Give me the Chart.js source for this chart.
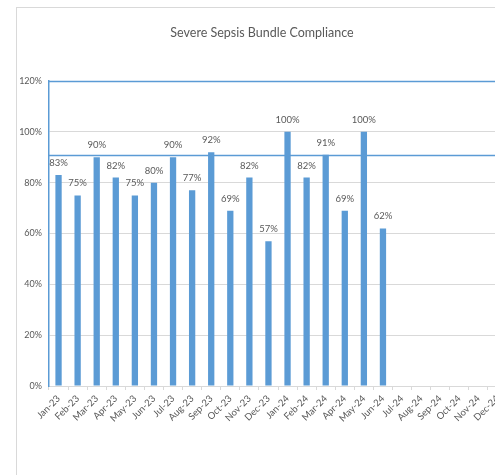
<!DOCTYPE html>
<html>
<head>
<meta charset="utf-8">
<script src="https://cdn.jsdelivr.net/npm/chart.js@4/dist/chart.umd.min.js"></script>
<style>
  html, body { margin: 0; padding: 0; background: #fff; overflow: hidden; }
  #wrap {
    position: absolute; left: 16px; top: 7px; width: 500px; height: 468px;
    border-left: 1px solid #d9d9d9; border-top: 1px solid #d9d9d9;
  }
</style>
</head>
<body>
<div id="wrap"><canvas id="barChart" width="500" height="468"></canvas></div>
<script>
var months = ["Jan-23", "Feb-23", "Mar-23", "Apr-23", "May-23", "Jun-23", "Jul-23", "Aug-23",
  "Sep-23", "Oct-23", "Nov-23", "Dec-23", "Jan-24", "Feb-24", "Mar-24", "Apr-24", "May-24",
  "Jun-24", "Jul-24", "Aug-24", "Sep-24", "Oct-24", "Nov-24", "Dec-24"];
var compliance = [0.83, 0.75, 0.90, 0.82, 0.75, 0.80, 0.90, 0.77, 0.92, 0.69, 0.82, 0.57,
  1.00, 0.82, 0.91, 0.69, 1.00, 0.62, null, null, null, null, null, null];
var target = 0.91;
var yTicks = [0, 0.2, 0.4, 0.6, 0.8, 1.0, 1.2];

var blue = "#5b9bd5";
var textGrey = "#595959";
var font = "Lato, 'Open Sans', sans-serif";

// value labels above bars + target line + top border
var overlay = {
  id: "overlay",
  afterDatasetsDraw: function (chart) {
    var ctx = chart.ctx;
    var area = chart.chartArea;
    var y = chart.scales.y;
    ctx.save();
    // target line
    ctx.strokeStyle = blue;
    ctx.lineWidth = 1.5;
    ctx.beginPath();
    ctx.moveTo(area.left, Math.round(y.getPixelForValue(target)) + 0.5);
    ctx.lineTo(area.right, Math.round(y.getPixelForValue(target)) + 0.5);
    ctx.stroke();
    // top border at 120%
    ctx.lineWidth = 1.5;
    ctx.beginPath();
    ctx.moveTo(area.left, Math.round(y.getPixelForValue(1.2)) + 0.5);
    ctx.lineTo(area.right, Math.round(y.getPixelForValue(1.2)) + 0.5);
    ctx.stroke();
    // labels
    ctx.fillStyle = textGrey;
    ctx.font = "9.5px " + font;
    ctx.textAlign = "center";
    ctx.textBaseline = "middle";
    chart.getDatasetMeta(0).data.forEach(function (bar, i) {
      var v = compliance[i];
      if (v === null) return;
      ctx.fillText(Math.round(v * 100) + "%", bar.x, bar.y - 12);
    });
    ctx.restore();
  }
};

var ctx = document.getElementById("barChart").getContext("2d");
var myChart = new Chart(ctx, {
  type: "bar",
  data: {
    labels: months,
    datasets: [
      {
        label: "Compliance",
        data: compliance,
        backgroundColor: blue,
        borderWidth: 0,
        barPercentage: 0.33,
        categoryPercentage: 1.0,
      },
    ],
  },
  options: {
    responsive: false,
    animation: false,
    layout: { padding: { left: 0, right: 10, top: 0, bottom: 45 } },
    plugins: {
      legend: { display: false },
      tooltip: { enabled: false },
      title: {
        display: true,
        text: "Severe Sepsis Bundle Compliance",
        color: textGrey,
        font: { family: font, size: 12.5, weight: "normal" },
        padding: { top: 17, bottom: 41 },
      },
    },
    scales: {
      x: {
        grid: { display: true, drawOnChartArea: false, offset: true, color: "#d9d9d9", tickLength: 4 },
        border: { color: "#d9d9d9" },
        ticks: {
          color: textGrey,
          font: { family: font, size: 9.5 },
          minRotation: 45,
          maxRotation: 45,
          autoSkip: false,
          padding: 3,
        },
        afterFit: function (scale) { scale.height = 45; },
      },
      y: {
        min: 0,
        max: 1.2,
        afterBuildTicks: function (scale) {
          scale.ticks = yTicks.map(function (v) { return { value: v }; });
        },
        grid: { color: "#d9d9d9", drawTicks: false },
        border: { color: blue, width: 1.5 },
        ticks: {
          color: textGrey,
          font: { family: font, size: 9 },
          padding: 7,
          callback: function (value) { return Math.round(value * 100) + "%"; },
        },
        afterFit: function (scale) { scale.width = 32; },
      },
    },
  },
  plugins: [overlay],
});
</script>
</body>
</html>
